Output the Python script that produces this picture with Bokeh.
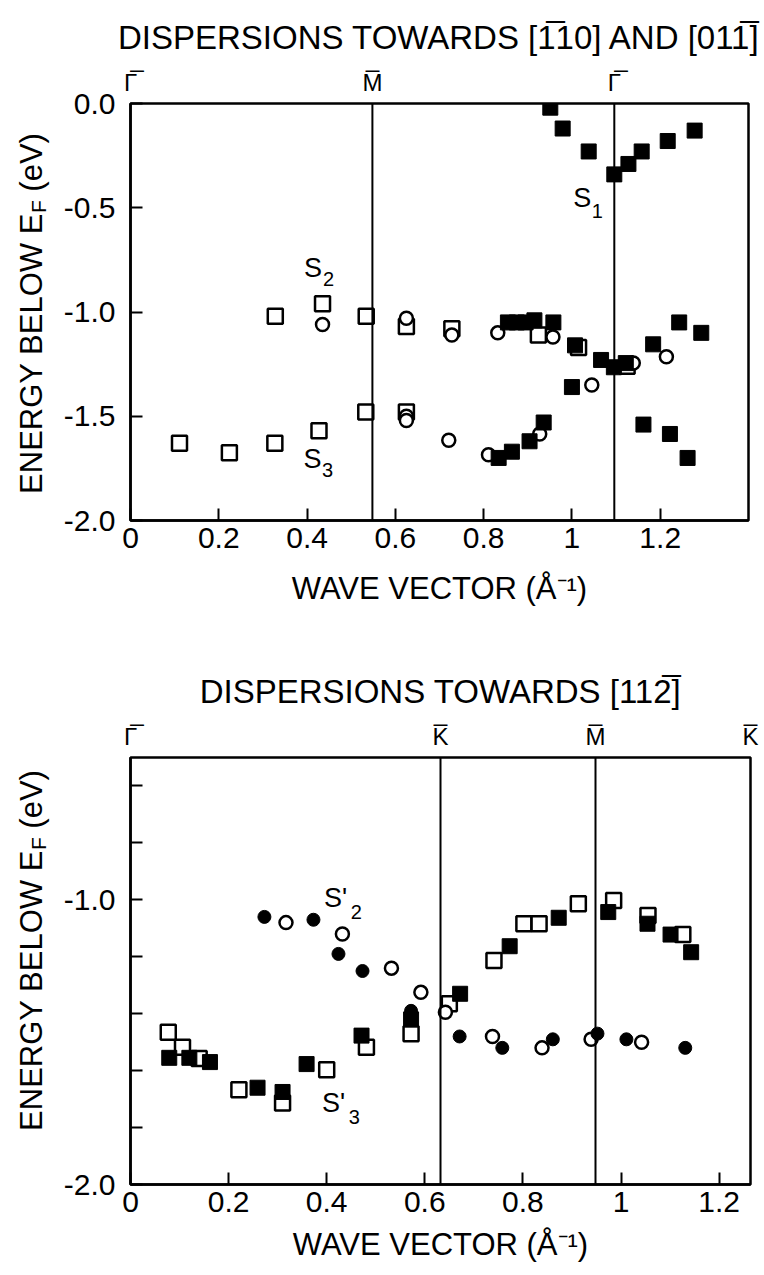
from math import pi
from bokeh.plotting import figure
from bokeh.models import (Range1d, FixedTicker, NumeralTickFormatter, Label, Span,
                          LinearAxis, CustomJSTickFormatter)
from bokeh.layouts import column, row
from bokeh.embed import file_html
from bokeh.resources import INLINE

FONT = "Liberation Sans"

# ---------------- data: top panel (towards [-110] and [01-1]) ----------------
top_fsq_k = [0.951, 0.979, 1.038, 1.096, 1.128, 1.158, 1.217, 1.278,
             0.855, 0.875, 0.895, 0.915, 0.958, 1.007, 1.066, 1.095, 1.122, 1.184, 1.243, 1.293,
             0.834, 0.864, 0.904, 0.936, 1.000, 1.162, 1.222, 1.262]
top_fsq_e = [-0.02, -0.12, -0.23, -0.34, -0.29, -0.23, -0.18, -0.13,
             -1.05, -1.05, -1.05, -1.04, -1.05, -1.16, -1.23, -1.265, -1.245, -1.155, -1.05, -1.10,
             -1.70, -1.67, -1.62, -1.53, -1.36, -1.54, -1.585, -1.70]
top_osq_k = [0.111, 0.224, 0.327, 0.427, 0.533, 0.625,
             0.328, 0.435, 0.534, 0.625, 0.728, 0.924, 1.015, 1.125]
top_osq_e = [-1.63, -1.675, -1.63, -1.57, -1.48, -1.48,
             -1.02, -0.96, -1.02, -1.07, -1.08, -1.11, -1.17, -1.26]
top_oci_k = [0.435, 0.625, 0.625, 0.625, 0.728, 0.721, 0.811, 0.832, 0.927, 0.957, 1.045, 1.139, 1.214]
top_oci_e = [-1.06, -1.03, -1.50, -1.52, -1.11, -1.615, -1.685, -1.10, -1.585, -1.12, -1.35, -1.245, -1.215]
top_sym_k = [0.0, 0.548, 1.096]
top_sym_t = ["\u0393\u0305", "M\u0305", "\u0393\u0305"]
top_xticks = [0, 0.2, 0.4, 0.6, 0.8, 1.0, 1.2]
top_yticks = [0.0, -0.5, -1.0, -1.5, -2.0]
top_title = "DISPERSIONS TOWARDS [1\u030510] AND [011\u0305]"

# ---------------- data: bottom panel (towards [11-2]) ----------------
bot_fci_k = [0.273, 0.373, 0.424, 0.473, 0.572, 0.671, 0.758, 0.861, 0.952, 1.011, 1.131]
bot_fci_e = [-1.06, -1.07, -1.19, -1.25, -1.39, -1.48, -1.52, -1.49, -1.47, -1.49, -1.52]
bot_oci_k = [0.317, 0.432, 0.532, 0.592, 0.642, 0.738, 0.839, 0.939, 1.042]
bot_oci_e = [-1.08, -1.12, -1.24, -1.325, -1.395, -1.48, -1.52, -1.49, -1.50]
bot_fsq_k = [0.079, 0.120, 0.162, 0.259, 0.310, 0.359, 0.471, 0.572, 0.672, 0.773, 0.873,
             0.974, 1.054, 1.101, 1.143]
bot_fsq_e = [-1.555, -1.555, -1.57, -1.66, -1.675, -1.577, -1.477, -1.42, -1.33, -1.163, -1.063,
             -1.043, -1.084, -1.122, -1.184]
bot_osq_k = [0.077, 0.106, 0.140, 0.221, 0.310, 0.400, 0.481, 0.572, 0.650, 0.741, 0.802,
             0.833, 0.913, 0.985, 1.055, 1.126]
bot_osq_e = [-1.465, -1.518, -1.557, -1.667, -1.714, -1.597, -1.518, -1.47, -1.365, -1.213, -1.084,
             -1.084, -1.014, -1.002, -1.055, -1.122]
bot_sym_k = [0.0, 0.632, 0.948, 1.2639]
bot_sym_t = ["\u0393\u0305", "K\u0305", "M\u0305", "K\u0305"]
bot_xticks = [0, 0.2, 0.4, 0.6, 0.8, 1.0, 1.2]
bot_ymajor = [-2.0, -1.0]
bot_yminor = [-1.8, -1.6, -1.4, -1.2, -0.8, -0.6]
bot_title = "DISPERSIONS TOWARDS [112\u0305]"

XLABEL = "WAVE VECTOR (\u00c5\u207b\u00b9)"
YLABEL_PARTS = ["ENERGY BELOW E", "F", "(eV)"]

LEFT_W = 60  # width of the strip that carries the rotated y label


# ---------------- helpers (page pixels -> data) ----------------
def tx(px):
    return (px - 127) / 621 * 1.4

def ty(py):
    return -(py - 103) / 417 * 2.0

def bx(px):
    return (px - 127) / 623 * 1.264

def by(py):
    return -0.5 - (py - 757) / 427 * 1.5


def lab(p, x, y, text, size, align="center", baseline="middle", angle=0.0):
    p.add_layout(Label(x=x, y=y, text=text, angle=angle, text_align=align,
                       text_baseline=baseline, text_font=FONT,
                       text_font_size=f"{size}px", text_color="black"))


def ylabel_strip(height, frame_top, frame_bottom, center_py, x_px):
    # the strip's frame is aligned by the row layout with the plot frame next to it,
    # so its y range spans the frame's page rows (negated page y).
    s = figure(width=LEFT_W, height=height, x_range=Range1d(0, LEFT_W),
               y_range=Range1d(-frame_bottom, -frame_top),
               x_axis_type=None, y_axis_type=None, output_backend="svg",
               toolbar_location=None, min_border=0)
    s.xgrid.visible = False
    s.ygrid.visible = False
    s.outline_line_color = None
    s.background_fill_color = "white"
    s.border_fill_color = "white"
    main, sub = 31, 21
    widths = [9.058 * main, 0.611 * sub, 1.889 * main]
    gaps = [0, 0, 0.278 * main]
    sizes = [main, sub, main]
    shifts = [0, 7, 0]
    total = sum(widths) + sum(gaps)
    pos = center_py + total / 2  # page y of the text start (bottom)
    for text, size, dx, w, g in zip(YLABEL_PARTS, sizes, shifts, widths, gaps):
        pos -= g
        c = pos - w / 2
        lab(s, x_px + dx, -c, text, size, align="center", angle=pi / 2)
        pos -= w
    return s


def base_fig(height, xr, yr, bt, bb, br):
    p = figure(width=764 - LEFT_W, height=height, x_range=Range1d(*xr), y_range=Range1d(*yr),
               output_backend="svg", toolbar_location=None,
               min_border_left=127 - LEFT_W, min_border_right=br,
               min_border_top=bt, min_border_bottom=bb)
    p.xgrid.visible = False
    p.ygrid.visible = False
    p.outline_line_color = "black"
    p.outline_line_width = 2.5
    p.background_fill_color = "white"
    p.border_fill_color = "white"
    for ax in (p.xaxis[0], p.yaxis[0]):
        ax.axis_line_width = 2.5
        ax.major_tick_in = 12
        ax.major_tick_out = 0
        ax.minor_tick_in = 12
        ax.minor_tick_out = 0
        ax.major_tick_line_width = 2
        ax.minor_tick_line_width = 2
        ax.major_label_text_font = FONT
        ax.major_label_text_font_size = "30px"
        ax.major_label_text_color = "black"
    xa = p.xaxis[0]
    xa.major_label_standoff = 7
    xa.axis_label = XLABEL
    xa.axis_label_text_font = FONT
    xa.axis_label_text_font_size = "31px"
    xa.axis_label_text_font_style = "normal"
    xa.axis_label_text_color = "black"
    p.yaxis[0].major_label_standoff = 15
    return p


def sym_axis(p, ks, texts, title):
    ax = LinearAxis(ticker=FixedTicker(ticks=ks, minor_ticks=[]),
                    formatter=CustomJSTickFormatter(args=dict(ks=ks, labels=texts), code="""
                        let best = 0;
                        for (let i = 0; i < ks.length; i++) {
                          if (Math.abs(ks[i] - tick) < Math.abs(ks[best] - tick)) best = i;
                        }
                        return labels[best];
                    """))
    ax.axis_line_color = None
    ax.major_tick_line_color = None
    ax.minor_tick_line_color = None
    ax.major_label_text_font = FONT
    ax.major_label_text_font_size = "24px"
    ax.major_label_text_color = "black"
    ax.major_label_standoff = 2
    ax.axis_label = title
    ax.axis_label_text_font = FONT
    ax.axis_label_text_font_size = "33px"
    ax.axis_label_text_font_style = "normal"
    ax.axis_label_text_color = "black"
    ax.axis_label_standoff = 10
    p.add_layout(ax, "above")


def markers(p, fsq, osq, oci, fci=None):
    p.scatter(osq[0], osq[1], marker="square", size=15, fill_color="white",
              line_color="black", line_width=2.5)
    p.scatter(oci[0], oci[1], marker="circle", size=13, fill_color="white",
              line_color="black", line_width=2.5)
    p.scatter(fsq[0], fsq[1], marker="square", size=15, fill_color="black",
              line_color="black", line_width=1)
    if fci is not None:
        p.scatter(fci[0], fci[1], marker="circle", size=13, fill_color="black",
                  line_color="black", line_width=1)


# ---------------- top panel ----------------
p1 = base_fig(640, (0, 1.4), (-2.0, 0.0), 103, 120, 16)
p1.xaxis[0].ticker = FixedTicker(ticks=top_xticks, minor_ticks=[])
p1.xaxis[0].formatter = NumeralTickFormatter(format="0.[0]")
p1.xaxis[0].axis_label_standoff = 20
p1.yaxis[0].ticker = FixedTicker(ticks=top_yticks, minor_ticks=[])
p1.yaxis[0].formatter = NumeralTickFormatter(format="0.0")
sym_axis(p1, top_sym_k, top_sym_t, top_title)
for k in top_sym_k[1:]:
    p1.add_layout(Span(location=k, dimension="height", line_color="black", line_width=2))
markers(p1, (top_fsq_k, top_fsq_e), (top_osq_k, top_osq_e), (top_oci_k, top_oci_e))

lab(p1, tx(310.5), ty(267), "S", 27)
lab(p1, tx(326), ty(278), "2", 20)
lab(p1, tx(310), ty(458), "S", 27)
lab(p1, tx(325), ty(469), "3", 20)
lab(p1, tx(581), ty(197), "S", 27)
lab(p1, tx(596), ty(210), "1", 20)
s1 = ylabel_strip(640, 103, 520, 313, 31)

# ---------------- bottom panel ----------------
p2 = base_fig(635, (0, 1.264), (-2.0, -0.5), 117, 91, 14)
p2.xaxis[0].ticker = FixedTicker(ticks=bot_xticks, minor_ticks=[])
p2.xaxis[0].formatter = NumeralTickFormatter(format="0.[0]")
p2.xaxis[0].axis_label_standoff = 12
p2.yaxis[0].ticker = FixedTicker(ticks=bot_ymajor, minor_ticks=bot_yminor)
p2.yaxis[0].formatter = NumeralTickFormatter(format="0.0")
sym_axis(p2, bot_sym_k, bot_sym_t, bot_title)
for k in bot_sym_k[1:3]:
    p2.add_layout(Span(location=k, dimension="height", line_color="black", line_width=2))
markers(p2, (bot_fsq_k, bot_fsq_e), (bot_osq_k, bot_osq_e), (bot_oci_k, bot_oci_e),
        (bot_fci_k, bot_fci_e))

lab(p2, bx(333), by(897), "S'", 27)
lab(p2, bx(354), by(911), "2", 20)
lab(p2, bx(331), by(1102), "S'", 27)
lab(p2, bx(352), by(1116), "3", 20)
s2 = ylabel_strip(635, 757, 1184, 950, 31)

layout = column(row(s1, p1, spacing=0), row(s2, p2, spacing=0), spacing=0)
open("out.html", "w").write(file_html(layout, INLINE))
